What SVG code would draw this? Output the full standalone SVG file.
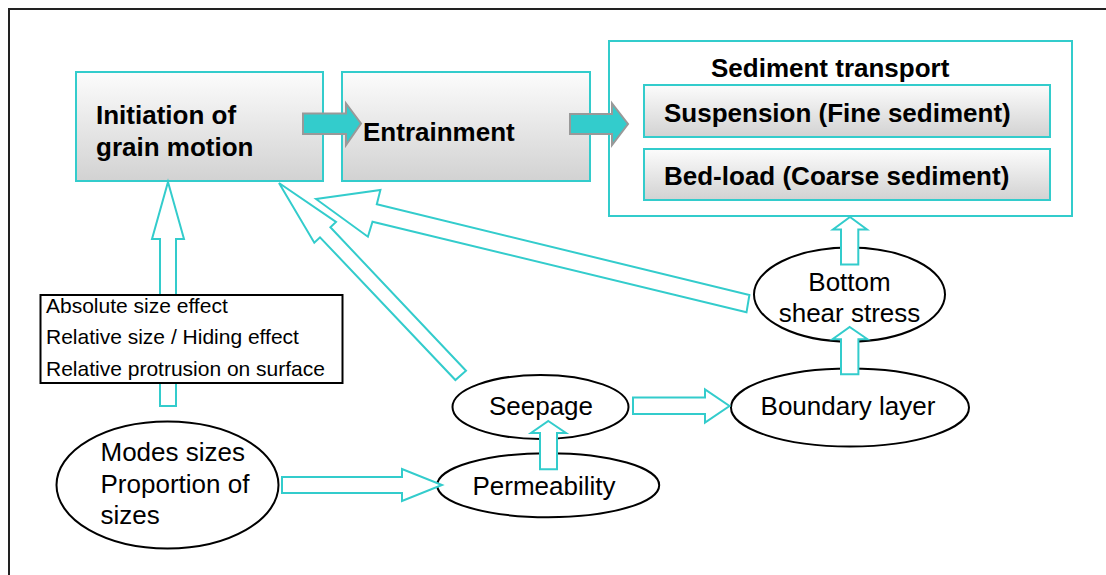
<svg xmlns="http://www.w3.org/2000/svg" width="1106" height="575" viewBox="0 0 1106 575">
  <defs>
    <linearGradient id="g" x1="0" y1="0" x2="0" y2="1">
      <stop offset="0" stop-color="#fcfcfc"/>
      <stop offset="1" stop-color="#d2d2d2"/>
    </linearGradient>
    <style>
      .box { fill: url(#g); stroke: #33CCCC; stroke-width: 2; }
      .frame { fill: #fff; stroke: #33CCCC; stroke-width: 2; }
      .ell { fill: #fff; stroke: #000; stroke-width: 2; }
      .hollow { fill: #fff; stroke: #33CCCC; stroke-width: 2; stroke-linejoin: miter; }
      .solid { fill: #33CCCC; stroke: #999; stroke-width: 2; }
      .b { font-family: "Liberation Sans", Arial, sans-serif; font-weight: bold; font-size: 26px; fill: #000; }
      .r { font-family: "Liberation Sans", Arial, sans-serif; font-size: 26px; fill: #000; }
      .s { font-family: "Liberation Sans", Arial, sans-serif; font-size: 21px; fill: #000; }
    </style>
  </defs>
  <rect width="1106" height="575" fill="#fff"/>
  <rect x="9" y="9" width="1110" height="580" fill="none" stroke="#222" stroke-width="2"/>

  <g id="initiation">
    <rect class="box" x="76" y="72" width="247" height="109"/>
    <text class="b" x="96" y="124">Initiation of</text>
    <text class="b" x="96" y="156">grain motion</text>
  </g>
  <g id="entrainment">
    <rect class="box" x="342" y="72" width="248" height="109"/>
    <text class="b" x="363" y="141">Entrainment</text>
  </g>
  <g id="sediment-transport">
    <rect class="frame" x="609" y="41" width="463" height="175"/>
    <text class="b" x="711" y="77">Sediment transport</text>
  </g>
  <g id="suspension">
    <rect class="box" x="644" y="85" width="406" height="52"/>
    <text class="b" x="664" y="122">Suspension (Fine sediment)</text>
  </g>
  <g id="bedload">
    <rect class="box" x="644" y="149" width="406" height="51"/>
    <text class="b" x="664" y="185">Bed-load (Coarse sediment)</text>
  </g>

  <g id="modes-sizes">
    <ellipse class="ell" cx="167.5" cy="485" rx="111" ry="63.5"/>
    <text class="r" x="100.5" y="461">Modes sizes</text>
    <text class="r" x="100.5" y="493">Proportion of</text>
    <text class="r" x="100.5" y="524">sizes</text>
  </g>
  <g id="seepage">
    <ellipse class="ell" cx="540.5" cy="407" rx="88" ry="32"/>
    <text class="r" x="541" y="415" text-anchor="middle">Seepage</text>
  </g>
  <g id="permeability">
    <ellipse class="ell" cx="548.2" cy="485.2" rx="111" ry="32"/>
    <text class="r" x="544" y="495" text-anchor="middle">Permeability</text>
  </g>
  <g id="boundary-layer">
    <ellipse class="ell" cx="850" cy="407.5" rx="119" ry="39"/>
    <text class="r" x="848" y="415" text-anchor="middle">Boundary layer</text>
  </g>
  <g id="bottom-shear-stress">
    <ellipse class="ell" cx="849.5" cy="294.5" rx="95.5" ry="47"/>
    <text class="r" x="849.5" y="291" text-anchor="middle">Bottom</text>
    <text class="r" x="849.5" y="322" text-anchor="middle">shear stress</text>
  </g>

  <g id="connectors">
    <polygon class="solid" points="303,113.5 346,113.5 346,103.5 361,123.5 346,145 346,134 303,134"/>
    <polygon class="solid" points="570,114 612,114 612,103.5 628,124 612,145 612,134 570,134"/>
    <polygon class="hollow" points="168,182 184,239 176,239 176,406 160,406 160,239 152,239"/>
    <polygon class="hollow" points="279,183 336,222 330.4,227.3 466,370.7 455.4,380 320,237.3 314.3,242.7"/>
    <polygon class="hollow" points="316,199 380.4,190 376.8,204.3 749.4,295 746.5,312.3 372.5,221.7 367.9,236.7"/>
    <polygon class="hollow" points="282,477 402,477 402,469 442,485 402,501 402,493 282,493"/>
    <polygon class="hollow" points="633,397.5 705,397.5 705,389.5 729.5,406 705,422.5 705,414 633,414"/>
    <polygon class="hollow" points="548.3,421 566,433 557,433 557,469.3 540,469.3 540,433 531,433"/>
    <polygon class="hollow" points="849.7,327 867.5,339.3 858.4,339.3 858.4,374.3 841,374.3 841,339.3 832.5,339.3"/>
    <polygon class="hollow" points="850,217 867,229.5 858.3,229.5 858.3,264.5 841,264.5 841,229.5 833,229.5"/>
  </g>

  <g id="factors">
    <rect x="40.5" y="295" width="302" height="88" fill="#fff" stroke="#000" stroke-width="2"/>
    <text class="s" x="46" y="313">Absolute size effect</text>
    <text class="s" x="46" y="344">Relative size / Hiding effect</text>
    <text class="s" x="46" y="376">Relative protrusion on surface</text>
  </g>
</svg>
